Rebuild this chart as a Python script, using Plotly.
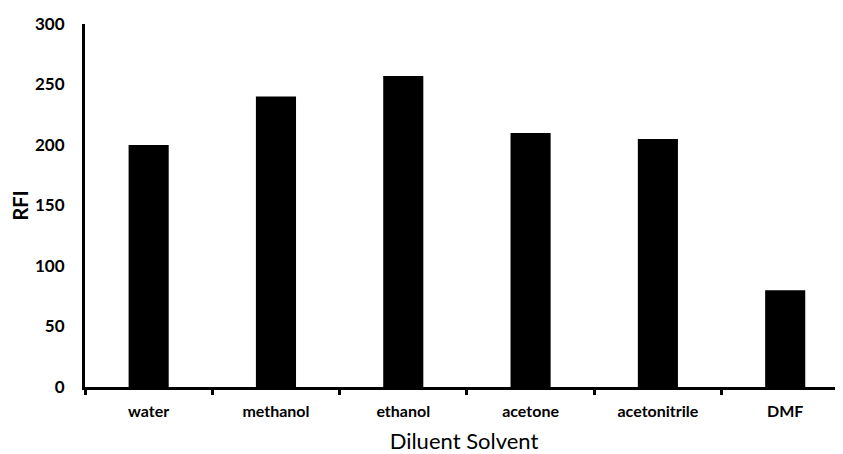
import plotly.graph_objects as go

categories = ["water", "methanol", "ethanol", "acetone", "acetonitrile", "DMF"]
rfi_values = [200, 240, 257, 210, 205, 80]
y_ticks = [0, 50, 100, 150, 200, 250, 300]

fig = go.Figure()
fig.add_trace(go.Bar(
    x=categories, y=rfi_values,
    marker=dict(color="black", line=dict(width=0)),
    width=0.315,
))

font_family = "Lato, 'Open Sans', sans-serif"

fig.update_layout(
    width=835, height=446,
    margin=dict(l=77, r=0, t=16, b=67),
    plot_bgcolor="white", paper_bgcolor="white",
    showlegend=False,
    font=dict(family=font_family, color="black"),
    xaxis=dict(
        range=[-0.5, 5.454],
        automargin=False,
        showline=True, linecolor="black", linewidth=3,
        ticks="outside", tickson="boundaries", ticklen=5, tickwidth=3, tickcolor="black",
        ticklabelstandoff=8,
        tickfont=dict(size=16, family=font_family, weight="bold"),
        title=dict(text="Diluent Solvent", font=dict(size=22, family=font_family), standoff=20),
        showgrid=False, zeroline=False,
    ),
    yaxis=dict(
        range=[0, 300],
        automargin=False,
        tickvals=y_ticks,
        showline=True, linecolor="black", linewidth=3,
        ticks="", ticklabelstandoff=14,
        tickfont=dict(size=17, family=font_family, weight="bold"),
        title=dict(text="RFI", font=dict(size=20, family=font_family, weight="bold"), standoff=14),
        showgrid=False, zeroline=False,
    ),
)

fig.write_html("out.html")
